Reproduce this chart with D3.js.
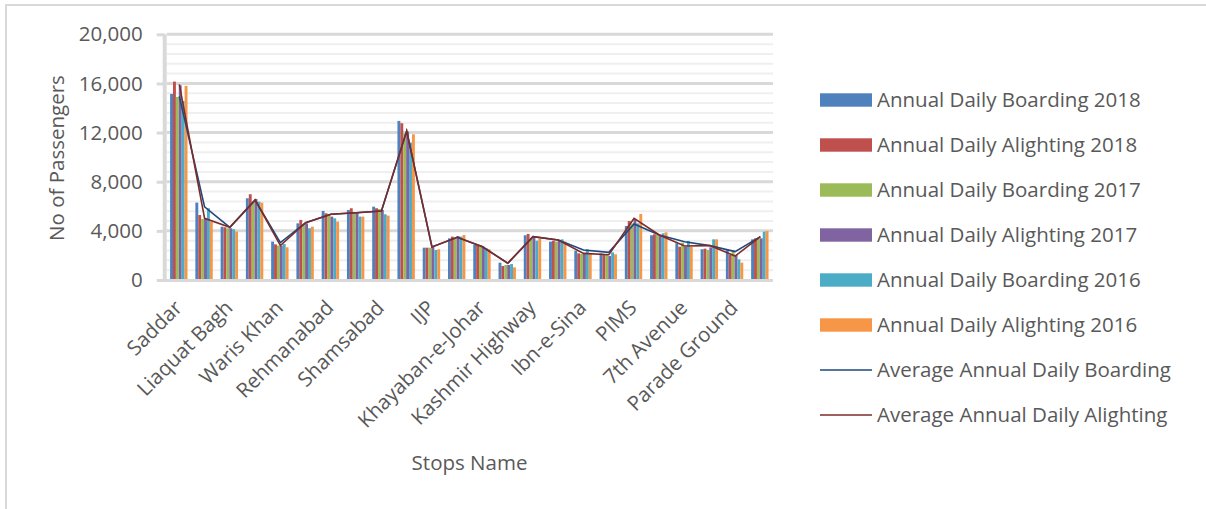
<!DOCTYPE html>
<html>
<head>
<meta charset="utf-8">
<script src="https://cdn.jsdelivr.net/npm/d3@7"></script>
<style>
  html, body { margin: 0; padding: 0; background: #fff; }
  svg { display: block; font-family: "Open Sans", sans-serif; }
</style>
</head>
<body>
<svg id="chart" width="1206" height="509"></svg>
<script>
// Metro stops, in route order (every other one is labelled on the axis)
const stops = ["Saddar","Marrir Chowk","Liaquat Bagh","Committee Chowk","Waris Khan","Chandni Chowk",
  "Rehmanabad","6th Road","Shamsabad","Faizabad","IJP","Potohar","Khayaban-e-Johar","Faiz Ahmed Faiz",
  "Kashmir Highway","Chaman","Ibn-e-Sina","Katchery","PIMS","Stock Exchange","7th Avenue",
  "Shaheed-e-Millat","Parade Ground","Pak Secretariat"];

const boarding2018  = [15150,6300,4340,6650,3120,4610,5620,5700,5970,12950,2630,3390,2850,1410,3640,3120,2390,2170,4400,3640,2990,2500,2500,3310];
const alighting2018 = [16150,5290,4290,6980,2900,4890,5430,5840,5840,12760,2630,3530,2850,1140,3750,3200,2170,2040,4800,3720,2710,2550,2040,3390];
const boarding2017  = [14900,4970,4210,6380,2800,4560,5350,5510,5780,11940,2630,3390,2710,1220,3390,3120,2120,2040,4610,3660,3040,2440,2440,3390];
const alighting2017 = [15850,4970,4210,6600,2800,4610,5160,5480,5700,12080,2710,3580,2710,1220,3530,3200,2120,1950,4970,3580,2710,2660,2040,3390];
const boarding2016  = [14570,5840,4130,6380,2930,4210,5020,5160,5350,11180,2440,3530,2580,1300,3200,3310,2500,2250,4610,3800,3180,3310,1680,3940];
const alighting2016 = [15800,4750,3940,6300,2660,4340,4750,5160,5240,11860,2500,3660,2500,1030,3340,3120,2120,2090,5370,3880,2710,3310,1410,3990];

const avgBoarding   = [14950,5950,4290,6500,3040,4670,5350,5480,5620,12130,2690,3470,2710,1360,3530,3260,2440,2250,4560,3660,3120,2800,2310,3530];
const avgAlighting  = [15930,5020,4290,6520,2800,4670,5350,5480,5620,12130,2690,3470,2710,1360,3530,3260,2170,2060,5020,3660,2770,2800,1950,3530];

const yTicks = [0, 4000, 8000, 12000, 16000, 20000];

const barSeries = [
  { name: "Annual Daily Boarding 2018",  values: boarding2018,  color: "#4f81bd" },
  { name: "Annual Daily Alighting 2018", values: alighting2018, color: "#c0504d" },
  { name: "Annual Daily Boarding 2017",  values: boarding2017,  color: "#9bbb59" },
  { name: "Annual Daily Alighting 2017", values: alighting2017, color: "#8064a2" },
  { name: "Annual Daily Boarding 2016",  values: boarding2016,  color: "#4bacc6" },
  { name: "Annual Daily Alighting 2016", values: alighting2016, color: "#f79646" }
];
const lineSeries = [
  { name: "Average Annual Daily Boarding",  values: avgBoarding,  color: "#1f497d" },
  { name: "Average Annual Daily Alighting", values: avgAlighting, color: "#7b2c2a" }
];

const svg = d3.select("#chart");
const textColor = "#595959";
const fontSize = "20.5px";

// outer frame
svg.append("rect").attr("x", 6).attr("y", 5).attr("width", 1215).attr("height", 520)
  .attr("fill", "none").attr("stroke", "#d9d9d9").attr("stroke-width", 2);

const plot = { left: 166.7, right: 773, top: 34.3, bottom: 280 };

const x = d3.scaleBand().domain(stops).range([plot.left, plot.right]).padding(0);
const xi = d3.scaleBand().domain(barSeries.map(s => s.name)).range([3.4, 20.8]).padding(0);
const y = d3.scaleLinear().domain([0, 20000]).range([plot.bottom, plot.top]);

// minor gridlines every 800
const minor = d3.range(800, 20000, 800).filter(v => v % 4000 !== 0);
svg.append("g").selectAll("line").data(minor).join("line")
  .attr("x1", plot.left).attr("x2", plot.right)
  .attr("y1", d => y(d)).attr("y2", d => y(d))
  .attr("stroke", "#efefef").attr("stroke-width", 2);

// major gridlines
svg.append("g").selectAll("line").data(yTicks.filter(d => d > 0)).join("line")
  .attr("x1", plot.left).attr("x2", plot.right)
  .attr("y1", d => y(d)).attr("y2", d => y(d))
  .attr("stroke", "#d9d9d9").attr("stroke-width", 3);

// y axis
const yAxis = d3.axisLeft(y).tickValues(yTicks).tickFormat(d3.format(",")).tickSize(8).tickPadding(14);
const yg = svg.append("g").attr("transform", `translate(${plot.left - 2},0)`).call(yAxis);
yg.select(".domain").attr("stroke", "#d9d9d9").attr("stroke-width", 4)
  .attr("d", `M0,${plot.top}V${plot.bottom + 1}`);
yg.selectAll(".tick line").attr("stroke", "#d9d9d9").attr("stroke-width", 3);
yg.selectAll(".tick text").attr("fill", textColor).style("font-size", fontSize)
  .style("font-family", "'Open Sans', sans-serif");

// bars
const groups = svg.append("g").selectAll("g").data(stops).join("g")
  .attr("transform", d => `translate(${x(d)},0)`);
groups.selectAll("rect")
  .data((d, i) => barSeries.map(s => ({ key: s.name, value: s.values[i], color: s.color })))
  .join("rect")
  .attr("x", d => xi(d.key))
  .attr("width", xi.bandwidth())
  .attr("y", d => y(d.value))
  .attr("height", d => y(0) - y(d.value))
  .attr("fill", d => d.color);

// x axis baseline
svg.append("line").attr("x1", plot.left - 9).attr("x2", plot.right)
  .attr("y1", plot.bottom + 0.5).attr("y2", plot.bottom + 0.5)
  .attr("stroke", "#d9d9d9").attr("stroke-width", 3);

// average lines
const line = d3.line().x((d, i) => x(stops[i]) + x.bandwidth() / 2).y(d => y(d));
svg.append("g").selectAll("path").data(lineSeries).join("path")
  .attr("d", d => line(d.values))
  .attr("fill", "none").attr("stroke", d => d.color).attr("stroke-width", 1.6);

// category labels (every second stop)
svg.append("g").selectAll("text").data(stops.filter((d, i) => i % 2 === 0)).join("text")
  .attr("transform", d => `translate(${x(d) + x.bandwidth() / 2 + 4},${309}) rotate(-45)`)
  .attr("text-anchor", "end")
  .attr("fill", textColor).style("font-size", fontSize)
  .text(d => d);

// axis titles
svg.append("text").attr("transform", "translate(64,158) rotate(-90)")
  .attr("text-anchor", "middle").attr("fill", textColor).style("font-size", fontSize)
  .text("No of Passengers");
svg.append("text").attr("x", 469.5).attr("y", 470)
  .attr("text-anchor", "middle").attr("fill", textColor).style("font-size", fontSize)
  .text("Stops Name");

// legend
const legend = svg.append("g").attr("transform", "translate(820,0)");
const items = barSeries.map(s => ({ ...s, type: "bar" })).concat(lineSeries.map(s => ({ ...s, type: "line" })));
const rows = legend.selectAll("g").data(items).join("g")
  .attr("transform", (d, i) => `translate(0,${100 + i * 45})`);
rows.filter(d => d.type === "bar").append("rect")
  .attr("x", 0).attr("y", -6.7).attr("width", 52).attr("height", 13.4).attr("fill", d => d.color);
rows.filter(d => d.type === "line").append("line")
  .attr("x1", 0).attr("x2", 52).attr("y1", 0).attr("y2", 0)
  .attr("stroke", d => d.color).attr("stroke-width", 1.6);
rows.append("text").attr("x", 57).attr("y", 7)
  .attr("fill", textColor).style("font-size", fontSize)
  .text(d => d.name);
</script>
</body>
</html>
